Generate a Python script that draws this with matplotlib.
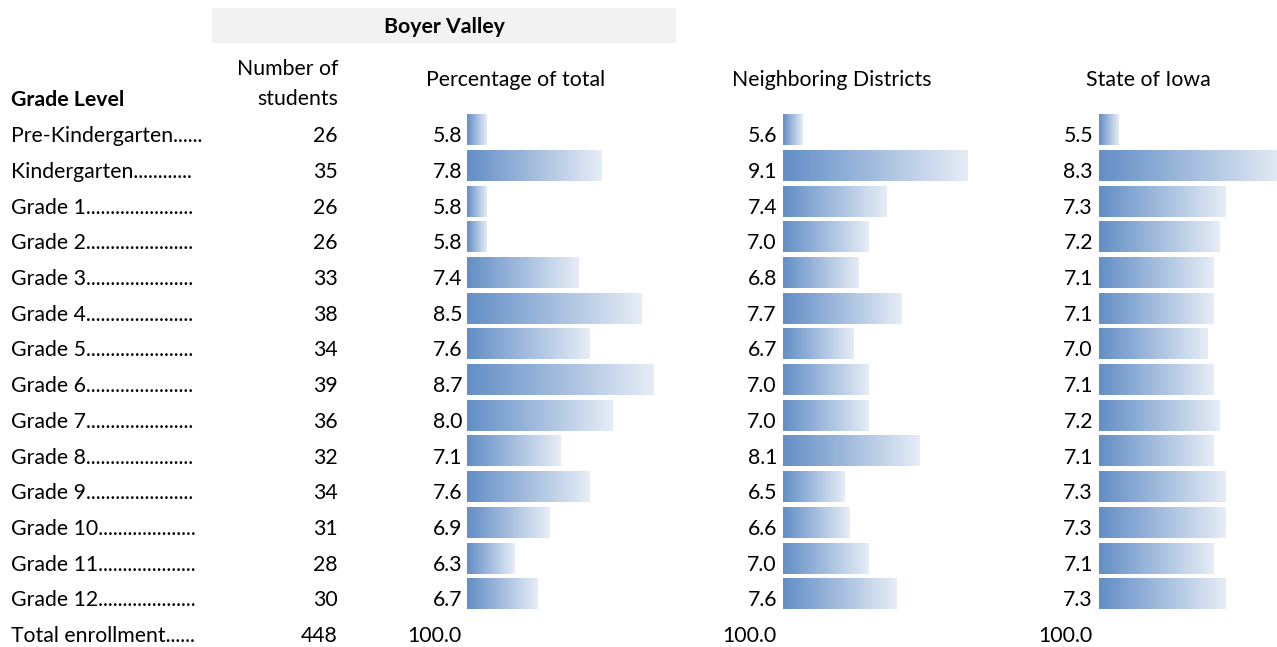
import numpy as np
import matplotlib.pyplot as plt
from matplotlib.colors import LinearSegmentedColormap
from matplotlib.patches import Rectangle

plt.rcParams['font.family'] = ['Lato', 'DejaVu Sans']

# table data
grade_labels = ["Pre-Kindergarten......", "Kindergarten............",
                "Grade 1" + "." * 22, "Grade 2" + "." * 22, "Grade 3" + "." * 22,
                "Grade 4" + "." * 22, "Grade 5" + "." * 22, "Grade 6" + "." * 22,
                "Grade 7" + "." * 22, "Grade 8" + "." * 22, "Grade 9" + "." * 22,
                "Grade 10" + "." * 20, "Grade 11" + "." * 20, "Grade 12" + "." * 20]
students = [26, 35, 26, 26, 33, 38, 34, 39, 36, 32, 34, 31, 28, 30]
boyer_pct = [5.8, 7.8, 5.8, 5.8, 7.4, 8.5, 7.6, 8.7, 8.0, 7.1, 7.6, 6.9, 6.3, 6.7]
neighbor_pct = [5.6, 9.1, 7.4, 7.0, 6.8, 7.7, 6.7, 7.0, 7.0, 8.1, 6.5, 6.6, 7.0, 7.6]
state_pct = [5.5, 8.3, 7.3, 7.2, 7.1, 7.1, 7.0, 7.1, 7.2, 7.1, 7.3, 7.3, 7.1, 7.3]
total_label = "Total enrollment......"
total_students = 448
total_pct = 100.0

W, H = 1277, 647
ROW0, PITCH = 129.7, 35.7   # bar centre of first row, row spacing (px)
BASE_OFF = 12.6             # text baseline below bar centre (px)
FS = 15.3

bar_cmap = LinearSegmentedColormap.from_list("databar", ["#638ec6", "#e6edf6"])


def row_y(i):
    return ROW0 + PITCH * i + BASE_OFF


fig = plt.figure(figsize=(W / 100, H / 100), dpi=100)
tax = fig.add_axes([0, 0, 1, 1])
tax.set_xlim(0, W)
tax.set_ylim(H, 0)
tax.axis('off')

# header
tax.add_patch(Rectangle((212, 8), 464, 35, color="#f2f2f2", lw=0))
tax.text(444, 33, "Boyer Valley", ha='center', va='baseline', fontsize=FS, fontweight='bold')
tax.text(11, 106, "Grade Level", ha='left', va='baseline', fontsize=FS, fontweight='bold')
tax.text(338, 75, "Number of", ha='right', va='baseline', fontsize=FS)
tax.text(338, 105, "students", ha='right', va='baseline', fontsize=FS)
tax.text(516, 86, "Percentage of total", ha='center', va='baseline', fontsize=FS)
tax.text(832, 86, "Neighboring Districts", ha='center', va='baseline', fontsize=FS)
tax.text(1148, 86, "State of Iowa", ha='center', va='baseline', fontsize=FS)

# columns: (axes left px, axes right px, x-min, px per unit, value text right px, values)
cols = [(467, 676, 5.47, 57.6, 462, boyer_pct),
        (783, 992, 5.196, 47.15, 777, neighbor_pct),
        (1099, 1277, 5.17, 59.5, 1093, state_pct)]

n = len(students)
for i in range(n):
    y = row_y(i)
    tax.text(11, y, grade_labels[i], ha='left', va='baseline', fontsize=FS)
    tax.text(338, y, str(students[i]), ha='right', va='baseline', fontsize=FS)

y = row_y(n)
tax.text(11, y, total_label, ha='left', va='baseline', fontsize=FS)
tax.text(338, y, str(total_students), ha='right', va='baseline', fontsize=FS)

grad = np.linspace(0, 1, 256).reshape(1, -1)
for x0, x1, lo, ppu, xt, vals in cols:
    ax = fig.add_axes([x0 / W, 0, (x1 - x0) / W, 1])
    ax.axis('off')
    for i, v in enumerate(vals):
        yc = ROW0 + PITCH * i
        ax.imshow(grad, cmap=bar_cmap, aspect='auto', interpolation='bilinear',
                  extent=(lo, v, yc + 15.5, yc - 15.5))
        tax.text(xt, row_y(i), f"{v:.1f}", ha='right', va='baseline', fontsize=FS)
    ax.set_xlim(lo, lo + (x1 - x0) / ppu)
    ax.set_ylim(H, 0)
    tax.text(xt, row_y(n), f"{total_pct:.1f}", ha='right', va='baseline', fontsize=FS)

fig.savefig("out.png", dpi=100)
